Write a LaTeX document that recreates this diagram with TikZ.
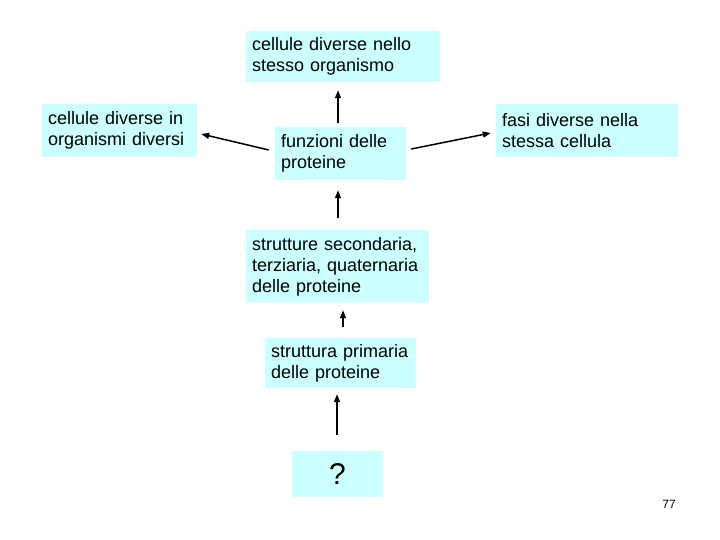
\documentclass[tikz,border=0pt]{standalone}
\usepackage{fontspec}
\setmainfont{Liberation Sans}
\usetikzlibrary{arrows.meta}
\definecolor{boxfill}{HTML}{CCFFFF}
\tikzset{
  box/.style={fill=boxfill, draw=none, rectangle, inner xsep=6pt, inner ysep=0pt,
    align=left, font=\fontsize{18}{21}\selectfont,
    execute at begin node={\hyphenpenalty=10000 \exhyphenpenalty=10000 }},
  arr/.style={line width=1.5pt, -{Triangle[length=8pt,width=6pt]}}
}
\newcommand{\bx}[6]{\node[box, text width=#4pt-12pt, minimum height=#5pt] (#1) at (#2,#3) {#6};}
\begin{document}
\begin{tikzpicture}[x=1pt,y=-1pt]
\useasboundingbox (0,0) rectangle (720,540);
\bx{b1}{343}{56.5}{194}{51}{cellule diverse nello\\stesso organismo}
\bx{b2}{119.5}{130.5}{155}{53}{cellule diverse in\\organismi diversi}
\bx{funz}{340.5}{153.5}{131}{53}{funzioni delle\\proteine}
\bx{b4}{587}{130.5}{182}{53}{fasi diverse nella\\stessa cellula}
\bx{str}{337.5}{266.5}{183}{73}{strutture secondaria,\\terziaria, quaternaria\\delle proteine}
\bx{prim}{340.5}{363}{151}{50}{struttura primaria\\delle proteine}
\node[box, minimum width=91pt, minimum height=46pt, align=center, font=\fontsize{30}{34}\selectfont] (q) at (337.5,474) {?};
\node[font=\fontsize{12}{14}\selectfont] (pg) at (669,504) {77};
\draw[arr] ([xshift=-2.5pt,yshift=4pt]funz.north) -- ([xshift=-5pt,yshift=-8pt]b1.south);
\draw[arr] ([xshift=-6pt,yshift=3.5pt]funz.west) -- ([xshift=4pt,yshift=-3.5pt]b2.east);
\draw[arr] ([xshift=5pt,yshift=4.5pt]funz.east) -- ([xshift=-5pt,yshift=-2.5pt]b4.west);
\draw[arr] ([xshift=0.5pt,yshift=12pt]str.north) -- ([xshift=-2.5pt,yshift=-10pt]funz.south);
\draw[arr] ([xshift=2.5pt,yshift=11pt]prim.north) -- ([xshift=5.5pt,yshift=-7pt]str.south);
\draw[arr] ([xshift=-0.5pt,yshift=16pt]q.north) -- ([xshift=-3.5pt,yshift=-6pt]prim.south);
\end{tikzpicture}
\end{document}
